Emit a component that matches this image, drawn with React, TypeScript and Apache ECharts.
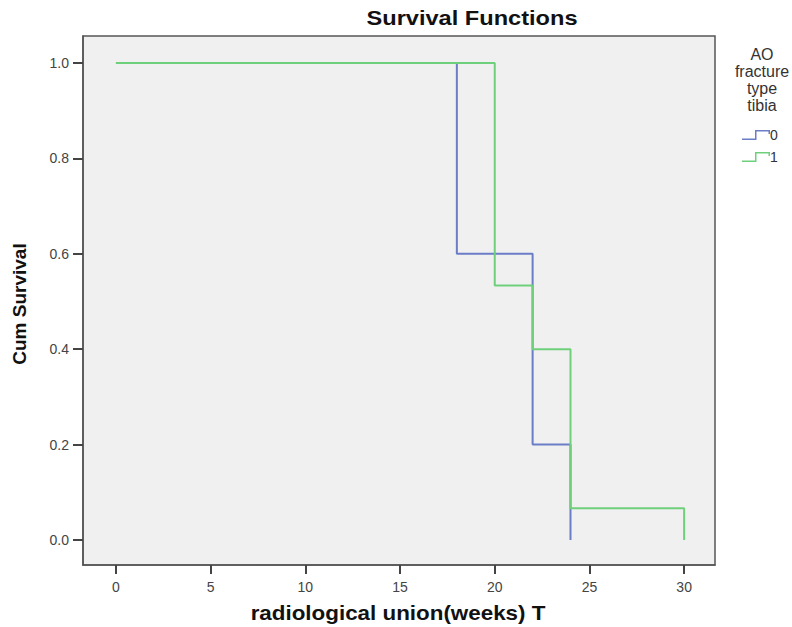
import React, { useEffect, useRef } from "react";
import * as echarts from "echarts";

const xTicks = [0, 5, 10, 15, 20, 25, 30];
const yTicks = [0, 0.2, 0.4, 0.6, 0.8, 1.0];
const group0 = [
  [0, 1.0],
  [18, 0.6],
  [22, 0.2],
  [24, 0.0],
];
const group1 = [
  [0, 1.0],
  [20, 0.5333],
  [22, 0.4],
  [24, 0.0667],
  [30, 0.0],
];
const seriesNames = ["0", "1"];
const colors = ["#6b7dc6", "#6fd07c"];

const X_MIN = -1.74;
const X_MAX = 31.63;
const Y_MIN = -0.0524;
const Y_MAX = 1.0566;

const stepIcon = "path://M0,8.3 L13,8.3 L13,0 L28,0 L28,4 L26.5,4 L26.5,1.5 L14.5,1.5 L14.5,9.8 L0,9.8 Z";
const font = "Liberation Sans, Arial";

export default function App() {
  const ref = useRef<HTMLDivElement>(null);
  const ref2 = useRef<HTMLDivElement>(null);
  useEffect(() => {
    if (!ref.current || !ref2.current) return;
    const chart = echarts.init(ref.current, null, { renderer: "svg" });
    chart.setOption({
      animation: false,
      backgroundColor: "#ffffff",
      grid: {
        left: 83,
        right: 77,
        top: 36,
        bottom: 62,
        show: true,
        backgroundColor: "#f0f0f0",
        borderColor: "#555",
        borderWidth: 1.5,
      },
      xAxis: {
        type: "value",
        min: X_MIN,
        max: X_MAX,
        splitLine: { show: false },
        axisLine: { show: true, onZero: false, lineStyle: { color: "#555", width: 1.5 } },
        axisTick: { show: true, inside: false, customValues: xTicks, length: 9, lineStyle: { color: "#444", width: 2 } },
        axisLabel: {
          customValues: xTicks,
          margin: 15,
          fontFamily: font,
          fontSize: 14,
          color: "#444",
        },
      },
      yAxis: {
        type: "value",
        min: Y_MIN,
        max: Y_MAX,
        splitLine: { show: false },
        axisLine: { show: true, onZero: false, lineStyle: { color: "#555", width: 1.5 } },
        axisTick: { show: true, inside: false, customValues: yTicks, length: 10, lineStyle: { color: "#444", width: 2 } },
        axisLabel: {
          customValues: yTicks,
          margin: 14,
          formatter: (v: number) => v.toFixed(1),
          fontFamily: font,
          fontSize: 14,
          color: "#444",
        },
      },
      legend: {
        orient: "vertical",
        left: 737,
        top: 123,
        itemWidth: 28,
        itemHeight: 10,
        itemGap: 8,
        data: seriesNames.map((n) => ({ name: n, icon: stepIcon })),
        textStyle: { fontFamily: font, fontSize: 14, color: "#333", padding: [0, 0, 0, -5] },
      },
      series: [
        {
          name: seriesNames[0],
          type: "line",
          step: "end",
          data: group0,
          showSymbol: false,
          symbol: "none",
          lineStyle: { color: colors[0], width: 2 },
          itemStyle: { color: colors[0] },
          z: 2,
        },
        {
          name: seriesNames[1],
          type: "line",
          step: "end",
          data: group1,
          showSymbol: false,
          symbol: "none",
          lineStyle: { color: colors[1], width: 2 },
          itemStyle: { color: colors[1] },
          z: 3,
        },
      ],
    });

    const overlay = echarts.init(ref2.current, null, { renderer: "svg" });
    overlay.setOption({
      animation: false,
      backgroundColor: "transparent",
      graphic: [
        {
          type: "text",
          x: 472,
          y: 18,
          scaleX: 1.18,
          silent: true,
          style: {
            text: "Survival Functions",
            fontFamily: font,
            fontWeight: "bold",
            fontSize: 20,
            fill: "#111",
            align: "center",
            verticalAlign: "middle",
          },
        },
        {
          type: "text",
          x: 398,
          y: 613,
          scaleX: 1.12,
          silent: true,
          style: {
            text: "radiological union(weeks) T",
            fontFamily: font,
            fontWeight: "bold",
            fontSize: 20,
            fill: "#111",
            align: "center",
            verticalAlign: "middle",
          },
        },
        {
          type: "text",
          x: 19,
          y: 304,
          rotation: Math.PI / 2,
          silent: true,
          style: {
            text: "Cum Survival",
            fontFamily: font,
            fontWeight: "bold",
            fontSize: 19,
            fill: "#111",
            align: "center",
            verticalAlign: "middle",
          },
        },
        {
          type: "text",
          x: 762,
          y: 46,
          silent: true,
          style: {
            text: "AO\nfracture\ntype\ntibia",
            fontFamily: font,
            fontSize: 16,
            lineHeight: 17,
            fill: "#333",
            align: "center",
            verticalAlign: "top",
          },
        },
      ],
    });
    return () => {
      chart.dispose();
      overlay.dispose();
    };
  }, []);
  return (
    <div style={{ position: "absolute", left: 0, top: 0, width: 792, height: 627 }}>
      <div ref={ref} style={{ width: 792, height: 627, position: "absolute", left: 0, top: 0 }} />
      <div
        ref={ref2}
        style={{ width: 792, height: 627, position: "absolute", left: 0, top: 0, pointerEvents: "none" }}
      />
    </div>
  );
}
